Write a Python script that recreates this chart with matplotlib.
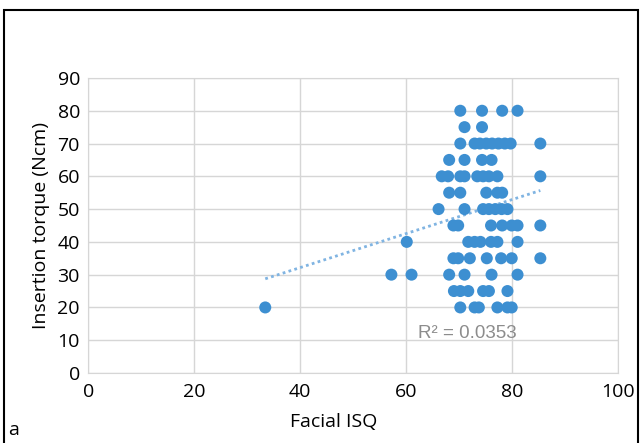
import numpy as np
import matplotlib.pyplot as plt
from matplotlib.patches import Rectangle

# facial ISQ (x) and insertion torque (y)
isq = [70.2, 74.3, 78.1, 81.0,
       71.0, 74.3,
       70.2, 72.9, 73.9, 75.1, 76.2, 77.4, 78.6, 79.7, 85.3,
       68.1, 71.0, 74.3, 76.1,
       66.7, 67.9, 70.2, 71.0, 73.4, 74.5, 75.6, 77.2, 85.3,
       68.1, 70.2, 75.1, 77.2, 78.1,
       66.1, 71.0, 74.5, 75.6, 76.8, 78.0, 79.1,
       68.9, 69.8, 76.0, 78.1, 79.9, 81.0, 85.3,
       60.1, 71.7, 72.9, 74.0, 76.0, 77.2, 81.0,
       68.9, 69.8, 72.0, 75.2, 77.9, 79.9, 85.3,
       57.2, 61.0, 68.1, 71.0, 76.1, 81.0,
       69.0, 70.2, 71.7, 74.5, 75.6, 79.1,
       33.4, 70.2, 72.9, 73.7, 77.2, 79.1, 79.9]
torque = [80] * 4 + [75] * 2 + [70] * 9 + [65] * 4 + [60] * 9 + [55] * 5 + \
         [50] * 7 + [45] * 7 + [40] * 7 + [35] * 7 + [30] * 6 + [25] * 6 + [20] * 7

# trend line as drawn in the picture
trend_slope = 0.519
trend_icept = 11.4
r2_text = "R\u00b2 = 0.0353"

xticks = [0, 20, 40, 60, 80, 100]
yticks = [0, 10, 20, 30, 40, 50, 60, 70, 80, 90]

plt.rcParams['font.family'] = ['Open Sans', 'DejaVu Sans']

fig = plt.figure(figsize=(6.44, 4.43), dpi=100)
ax = fig.add_axes([0.137, 0.158, 0.823, 0.666])

ax.scatter(isq, torque, s=75, color='#3d8fd1', edgecolors='none', zorder=3)

tx = np.array([min(isq), max(isq)])
ax.plot(tx, trend_slope * tx + trend_icept, linestyle=(0, (1, 1.2)),
        color='#80b4e2', linewidth=2, zorder=2)

ax.text(71.5, 12, r2_text, color='#8c8c8c', fontsize=13.5, ha='center',
        va='center', family=['Liberation Sans', 'DejaVu Sans'])

ax.set_xlim(0, 100)
ax.set_ylim(0, 90)
ax.set_xticks(xticks)
ax.set_yticks(yticks)
ax.tick_params(length=0, labelsize=14)
ax.tick_params(axis='x', pad=7)
ax.tick_params(axis='y', pad=6)
ax.grid(True, color='#d6d6d6', linewidth=1)
ax.set_axisbelow(True)
for sp in ax.spines.values():
    sp.set_color('#d6d6d6')

ax.set_xlabel("Facial ISQ", fontsize=14)
ax.xaxis.set_label_coords(0.463, -0.135)
ax.set_ylabel("Insertion torque (Ncm)", fontsize=14, labelpad=5)

fig.text(0.012, 0.01, "a", fontsize=14, ha='left', va='bottom')

# outer frame
fig.patches.append(Rectangle((0.006, -0.05), 0.985, 1.027, transform=fig.transFigure,
                             fill=False, edgecolor='black', linewidth=1.5))

fig.savefig("out.png", dpi=100)
